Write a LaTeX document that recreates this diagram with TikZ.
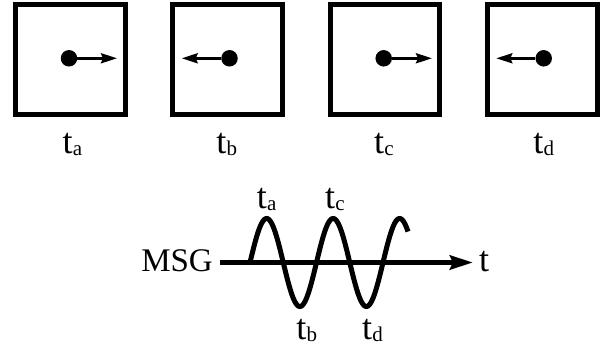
\documentclass[tikz,border=0pt]{standalone}
\usepackage{fontspec}
\setmainfont{Liberation Serif}
\usetikzlibrary{arrows.meta}
\newcommand\tlab[1]{t\kern0.3pt\raisebox{-1.5pt}{\fontsize{21}{21}\selectfont #1}}
\begin{document}
\begin{tikzpicture}[x=1pt,y=-1pt,
  framebox/.style={draw,line width=5pt,rectangle,minimum width=109.5pt,minimum height=109.5pt,inner sep=0pt},
  dot/.style={circle,fill=black,minimum size=16.5pt,inner sep=0pt},
  smallarr/.style={line width=2.7pt,-{Stealth[length=16pt,width=10pt,inset=2pt]}},
  lab/.style={font=\fontsize{36}{40}\selectfont,inner sep=0pt,anchor=base},
  biglab/.style={font=\fontsize{33}{38}\selectfont,inner sep=0pt}]
\useasboundingbox (0,0) rectangle (604,352);
% boxes
\node[framebox] (b1) at (70.5,59.5) {};
\node[framebox] (b2) at (227.5,59.5) {};
\node[framebox] (b3) at (385,59.5) {};
\node[framebox] (b4) at (542.5,59.5) {};
% dots
\node[dot] (d1) at (69,58.3) {};
\node[dot] (d2) at (229.5,58.3) {};
\node[dot] (d3) at (383.7,58.3) {};
\node[dot] (d4) at (543.7,58.3) {};
\coordinate (e1) at (117,58.3);
\coordinate (e2) at (181.7,58.3);
\coordinate (e3) at (432,58.3);
\coordinate (e4) at (496.3,58.3);
\draw[smallarr] (d1) -- (e1);
\draw[smallarr] (d2) -- (e2);
\draw[smallarr] (d3) -- (e3);
\draw[smallarr] (d4) -- (e4);
% labels under boxes
\node[lab] (la) at (72.5,154) {\tlab{a}};
\node[lab] (lb) at (226.7,154) {\tlab{b}};
\node[lab] (lc) at (384,154) {\tlab{c}};
\node[lab] (ld) at (543.7,154) {\tlab{d}};
% wave
\draw[line width=5pt] plot[domain=0:158,samples=200,smooth] ({250+\x},{262.5-44*sin(5.41353*\x)});
% axis
\node[biglab,anchor=base east] (msg) at (213,271.5) {MSG};
\node[lab,anchor=base west] (tt) at (479,271) {t};
\coordinate (axs) at (220,262.5);
\coordinate (axe) at (473,262.5);
\draw[line width=5pt,-{Stealth[length=23pt,width=14pt,inset=3pt]}] (axs) -- (axe);
% wave labels
\node[lab] (wa) at (266.7,209) {\tlab{a}};
\node[lab] (wc) at (335,209) {\tlab{c}};
\node[lab] (wb) at (306.7,339.5) {\tlab{b}};
\node[lab] (wd) at (372.5,339.5) {\tlab{d}};
\end{tikzpicture}
\end{document}
